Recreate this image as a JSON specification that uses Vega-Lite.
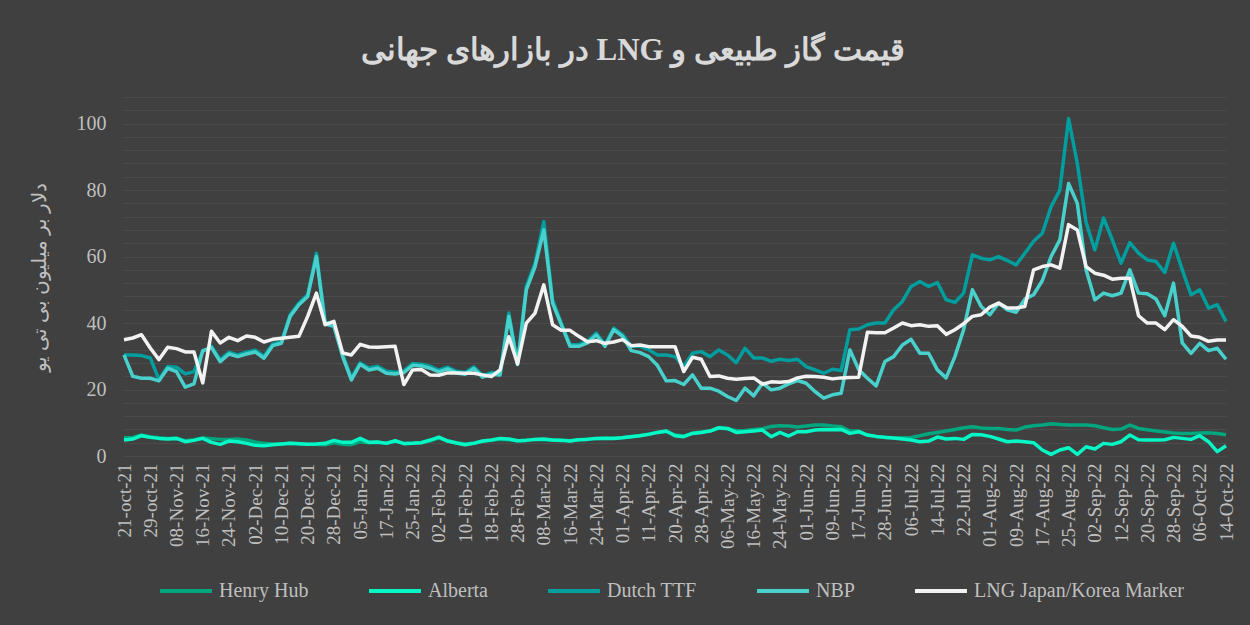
{
"$schema": "https://vega.github.io/schema/vega-lite/v6.json",
"autosize": {"type": "none"},
"width": 1102,
"height": 359,
"padding": {"left": 124, "top": 97, "right": 24, "bottom": 169},
"background": "#404040",
"title": {"text": "‫قیمت گاز طبیعی و LNG در بازارهای جهانی‬", "font": "Liberation Serif", "fontSize": 31, "fontWeight": "bold", "color": "#D9D9D9", "anchor": "middle", "frame": "group", "dx": -42, "offset": 20},
"config": {
  "view": {"stroke": null},
  "font": "Liberation Serif",
  "axisY": {"domain": false, "ticks": false, "gridColor": "#4C4C4C", "gridWidth": 1, "labelOverlap": false, "labelFont": "Liberation Serif", "labelFontSize": 20, "labelColor": "#BFBFBF", "labelPadding": 18, "titleFont": "Liberation Serif", "titleFontSize": 20, "titleFontWeight": "normal", "titleColor": "#BFBFBF", "titlePadding": 27},
  "axisX": {"domain": false, "ticks": false, "grid": false, "labelFont": "Liberation Serif", "labelFontSize": 19, "labelColor": "#BFBFBF", "labelPadding": 7, "labelAngle": -90, "labelOverlap": false, "labelBound": false},
  "legend": {"orient": "none", "legendX": 34, "legendY": 466, "direction": "horizontal", "symbolType": "stroke", "symbolSize": 2700, "symbolStrokeWidth": 4, "labelFont": "Liberation Serif", "labelFontSize": 20, "labelColor": "#BFBFBF", "labelLimit": 400, "labelOffset": 5, "columnPadding": 52, "padding": 0}
},
"data": {"values": [
{"d":"21-oct-21","Henry Hub":5.5,"Alberta":4.8,"Dutch TTF":30.4,"NBP":30.4,"LNG Japan/Korea Marker":35},
{"d":"25-oct-21","Henry Hub":5.6,"Alberta":5.1,"Dutch TTF":30.4,"NBP":24,"LNG Japan/Korea Marker":35.5},
{"d":"27-oct-21","Henry Hub":6.3,"Alberta":6.1,"Dutch TTF":30.2,"NBP":23.4,"LNG Japan/Korea Marker":36.5},
{"d":"29-oct-21","Henry Hub":5.8,"Alberta":5.6,"Dutch TTF":29.5,"NBP":23.4,"LNG Japan/Korea Marker":32.5},
{"d":"02-Nov-21","Henry Hub":5.5,"Alberta":5.3,"Dutch TTF":23,"NBP":22.6,"LNG Japan/Korea Marker":29},
{"d":"04-Nov-21","Henry Hub":5.3,"Alberta":5.1,"Dutch TTF":26.9,"NBP":26.4,"LNG Japan/Korea Marker":32.7},
{"d":"08-Nov-21","Henry Hub":5.4,"Alberta":5.3,"Dutch TTF":26.7,"NBP":25.4,"LNG Japan/Korea Marker":32.3},
{"d":"10-Nov-21","Henry Hub":4.6,"Alberta":4.3,"Dutch TTF":24.7,"NBP":20.7,"LNG Japan/Korea Marker":31.3},
{"d":"12-Nov-21","Henry Hub":4.9,"Alberta":4.7,"Dutch TTF":25.4,"NBP":21.7,"LNG Japan/Korea Marker":31.3},
{"d":"16-Nov-21","Henry Hub":5.4,"Alberta":5.3,"Dutch TTF":31.4,"NBP":31.7,"LNG Japan/Korea Marker":22},
{"d":"18-Nov-21","Henry Hub":5.2,"Alberta":4.1,"Dutch TTF":33,"NBP":32.6,"LNG Japan/Korea Marker":37.5},
{"d":"22-Nov-21","Henry Hub":5.0,"Alberta":3.5,"Dutch TTF":29,"NBP":28.4,"LNG Japan/Korea Marker":34},
{"d":"24-Nov-21","Henry Hub":5.0,"Alberta":4.5,"Dutch TTF":31.2,"NBP":30.7,"LNG Japan/Korea Marker":35.7},
{"d":"26-Nov-21","Henry Hub":5.1,"Alberta":4.3,"Dutch TTF":30.4,"NBP":29.9,"LNG Japan/Korea Marker":34.7},
{"d":"30-Nov-21","Henry Hub":4.8,"Alberta":3.8,"Dutch TTF":31.2,"NBP":30.7,"LNG Japan/Korea Marker":36.1},
{"d":"02-Dec-21","Henry Hub":4.2,"Alberta":3.2,"Dutch TTF":31.8,"NBP":31.3,"LNG Japan/Korea Marker":35.7},
{"d":"06-Dec-21","Henry Hub":3.8,"Alberta":3.1,"Dutch TTF":30,"NBP":29.4,"LNG Japan/Korea Marker":34.3},
{"d":"08-Dec-21","Henry Hub":3.6,"Alberta":3.4,"Dutch TTF":33.7,"NBP":33.2,"LNG Japan/Korea Marker":35.1},
{"d":"10-Dec-21","Henry Hub":3.6,"Alberta":3.6,"Dutch TTF":34.4,"NBP":33.9,"LNG Japan/Korea Marker":35.4},
{"d":"14-Dec-21","Henry Hub":3.8,"Alberta":3.8,"Dutch TTF":42.5,"NBP":42,"LNG Japan/Korea Marker":35.7},
{"d":"16-Dec-21","Henry Hub":3.7,"Alberta":3.7,"Dutch TTF":46,"NBP":45.5,"LNG Japan/Korea Marker":36},
{"d":"20-Dec-21","Henry Hub":3.5,"Alberta":3.5,"Dutch TTF":48.5,"NBP":48,"LNG Japan/Korea Marker":42},
{"d":"22-Dec-21","Henry Hub":3.5,"Alberta":3.6,"Dutch TTF":61,"NBP":60,"LNG Japan/Korea Marker":49},
{"d":"24-Dec-21","Henry Hub":3.4,"Alberta":3.8,"Dutch TTF":40.5,"NBP":39.7,"LNG Japan/Korea Marker":39.5},
{"d":"28-Dec-21","Henry Hub":4.0,"Alberta":4.7,"Dutch TTF":39.5,"NBP":39,"LNG Japan/Korea Marker":40.5},
{"d":"30-Dec-21","Henry Hub":3.5,"Alberta":4.1,"Dutch TTF":30.5,"NBP":29.9,"LNG Japan/Korea Marker":31},
{"d":"03-Jan-22","Henry Hub":3.4,"Alberta":4.1,"Dutch TTF":23.5,"NBP":22.9,"LNG Japan/Korea Marker":30.4},
{"d":"05-Jan-22","Henry Hub":4.3,"Alberta":5.3,"Dutch TTF":28,"NBP":27.6,"LNG Japan/Korea Marker":33.6},
{"d":"10-Jan-22","Henry Hub":4.0,"Alberta":4.1,"Dutch TTF":26.5,"NBP":25.9,"LNG Japan/Korea Marker":32.8},
{"d":"13-Jan-22","Henry Hub":4.1,"Alberta":4.2,"Dutch TTF":27,"NBP":26.4,"LNG Japan/Korea Marker":32.7},
{"d":"17-Jan-22","Henry Hub":3.9,"Alberta":3.8,"Dutch TTF":25.5,"NBP":24.9,"LNG Japan/Korea Marker":32.9},
{"d":"19-Jan-22","Henry Hub":4.4,"Alberta":4.6,"Dutch TTF":25.2,"NBP":24.7,"LNG Japan/Korea Marker":33},
{"d":"21-Jan-22","Henry Hub":3.8,"Alberta":3.7,"Dutch TTF":25.6,"NBP":25.1,"LNG Japan/Korea Marker":21.5},
{"d":"25-Jan-22","Henry Hub":3.9,"Alberta":3.8,"Dutch TTF":27.8,"NBP":27.3,"LNG Japan/Korea Marker":25.9},
{"d":"27-Jan-22","Henry Hub":4.1,"Alberta":4.0,"Dutch TTF":27.6,"NBP":27.1,"LNG Japan/Korea Marker":26},
{"d":"31-Jan-22","Henry Hub":4.6,"Alberta":4.8,"Dutch TTF":27,"NBP":26.4,"LNG Japan/Korea Marker":24.4},
{"d":"02-Feb-22","Henry Hub":5.4,"Alberta":5.7,"Dutch TTF":25.8,"NBP":25.3,"LNG Japan/Korea Marker":24.3},
{"d":"04-Feb-22","Henry Hub":4.6,"Alberta":4.5,"Dutch TTF":26.7,"NBP":26.2,"LNG Japan/Korea Marker":25},
{"d":"08-Feb-22","Henry Hub":4.0,"Alberta":3.9,"Dutch TTF":25.5,"NBP":25,"LNG Japan/Korea Marker":25},
{"d":"10-Feb-22","Henry Hub":3.6,"Alberta":3.4,"Dutch TTF":25.1,"NBP":24.6,"LNG Japan/Korea Marker":24.9},
{"d":"14-Feb-22","Henry Hub":3.9,"Alberta":3.8,"Dutch TTF":26.8,"NBP":26.3,"LNG Japan/Korea Marker":24.9},
{"d":"16-Feb-22","Henry Hub":4.4,"Alberta":4.5,"Dutch TTF":24.2,"NBP":23.7,"LNG Japan/Korea Marker":24.4},
{"d":"18-Feb-22","Henry Hub":4.7,"Alberta":4.8,"Dutch TTF":25.1,"NBP":24.6,"LNG Japan/Korea Marker":23.9},
{"d":"22-Feb-22","Henry Hub":5.0,"Alberta":5.3,"Dutch TTF":24.9,"NBP":24.4,"LNG Japan/Korea Marker":25.9},
{"d":"24-Feb-22","Henry Hub":4.9,"Alberta":5.1,"Dutch TTF":43,"NBP":42,"LNG Japan/Korea Marker":35.9},
{"d":"28-Feb-22","Henry Hub":4.6,"Alberta":4.6,"Dutch TTF":28,"NBP":27.5,"LNG Japan/Korea Marker":27.7},
{"d":"02-Mar-22","Henry Hub":4.8,"Alberta":4.7,"Dutch TTF":51,"NBP":50,"LNG Japan/Korea Marker":40},
{"d":"04-Mar-22","Henry Hub":5.0,"Alberta":5.0,"Dutch TTF":58,"NBP":57,"LNG Japan/Korea Marker":43},
{"d":"08-Mar-22","Henry Hub":4.9,"Alberta":5.1,"Dutch TTF":70.5,"NBP":68,"LNG Japan/Korea Marker":51.5},
{"d":"10-Mar-22","Henry Hub":4.8,"Alberta":4.8,"Dutch TTF":47,"NBP":46,"LNG Japan/Korea Marker":39.5},
{"d":"14-Mar-22","Henry Hub":4.8,"Alberta":4.7,"Dutch TTF":40,"NBP":39.5,"LNG Japan/Korea Marker":37.8},
{"d":"16-Mar-22","Henry Hub":4.6,"Alberta":4.5,"Dutch TTF":33.5,"NBP":33,"LNG Japan/Korea Marker":37.8},
{"d":"18-Mar-22","Henry Hub":4.9,"Alberta":4.9,"Dutch TTF":33.5,"NBP":33,"LNG Japan/Korea Marker":36},
{"d":"22-Mar-22","Henry Hub":5.1,"Alberta":5.0,"Dutch TTF":34.5,"NBP":34,"LNG Japan/Korea Marker":34.4},
{"d":"24-Mar-22","Henry Hub":5.3,"Alberta":5.3,"Dutch TTF":37,"NBP":36.4,"LNG Japan/Korea Marker":34.7},
{"d":"28-Mar-22","Henry Hub":5.4,"Alberta":5.3,"Dutch TTF":33.5,"NBP":33,"LNG Japan/Korea Marker":33.9},
{"d":"30-Mar-22","Henry Hub":5.4,"Alberta":5.3,"Dutch TTF":38.5,"NBP":38,"LNG Japan/Korea Marker":34.3},
{"d":"01-Apr-22","Henry Hub":5.6,"Alberta":5.5,"Dutch TTF":36.5,"NBP":36,"LNG Japan/Korea Marker":35},
{"d":"05-Apr-22","Henry Hub":5.9,"Alberta":5.8,"Dutch TTF":33,"NBP":31.7,"LNG Japan/Korea Marker":33.2},
{"d":"07-Apr-22","Henry Hub":6.2,"Alberta":6.1,"Dutch TTF":33,"NBP":31.1,"LNG Japan/Korea Marker":33.4},
{"d":"11-Apr-22","Henry Hub":6.6,"Alberta":6.5,"Dutch TTF":32,"NBP":29.9,"LNG Japan/Korea Marker":32.9},
{"d":"13-Apr-22","Henry Hub":7.1,"Alberta":7.1,"Dutch TTF":30.4,"NBP":27.2,"LNG Japan/Korea Marker":32.9},
{"d":"18-Apr-22","Henry Hub":7.4,"Alberta":7.5,"Dutch TTF":30.4,"NBP":22.6,"LNG Japan/Korea Marker":32.9},
{"d":"20-Apr-22","Henry Hub":6.3,"Alberta":6.1,"Dutch TTF":29.9,"NBP":22.7,"LNG Japan/Korea Marker":32.9},
{"d":"22-Apr-22","Henry Hub":6.0,"Alberta":5.8,"Dutch TTF":26.9,"NBP":21.5,"LNG Japan/Korea Marker":25.4},
{"d":"26-Apr-22","Henry Hub":6.9,"Alberta":6.8,"Dutch TTF":30.9,"NBP":24.4,"LNG Japan/Korea Marker":29.7},
{"d":"28-Apr-22","Henry Hub":7.2,"Alberta":7.1,"Dutch TTF":31.4,"NBP":20.4,"LNG Japan/Korea Marker":29.1},
{"d":"02-May-22","Henry Hub":7.5,"Alberta":7.5,"Dutch TTF":29.9,"NBP":20.4,"LNG Japan/Korea Marker":23.9},
{"d":"04-May-22","Henry Hub":8.4,"Alberta":8.5,"Dutch TTF":31.9,"NBP":19.5,"LNG Japan/Korea Marker":24.1},
{"d":"06-May-22","Henry Hub":8.2,"Alberta":8.3,"Dutch TTF":30.4,"NBP":17.9,"LNG Japan/Korea Marker":23.4},
{"d":"10-May-22","Henry Hub":7.6,"Alberta":7.1,"Dutch TTF":28.1,"NBP":16.7,"LNG Japan/Korea Marker":23.1},
{"d":"12-May-22","Henry Hub":7.7,"Alberta":7.3,"Dutch TTF":32.4,"NBP":20.4,"LNG Japan/Korea Marker":23.3},
{"d":"16-May-22","Henry Hub":8.0,"Alberta":7.5,"Dutch TTF":29.5,"NBP":18.1,"LNG Japan/Korea Marker":23.5},
{"d":"18-May-22","Henry Hub":8.2,"Alberta":7.8,"Dutch TTF":29.5,"NBP":21.9,"LNG Japan/Korea Marker":21.6},
{"d":"20-May-22","Henry Hub":8.9,"Alberta":5.8,"Dutch TTF":28.5,"NBP":19.9,"LNG Japan/Korea Marker":22.3},
{"d":"24-May-22","Henry Hub":9.1,"Alberta":7.1,"Dutch TTF":29.1,"NBP":20.4,"LNG Japan/Korea Marker":22.2},
{"d":"26-May-22","Henry Hub":9.0,"Alberta":6.0,"Dutch TTF":28.7,"NBP":21.7,"LNG Japan/Korea Marker":22.4},
{"d":"30-May-22","Henry Hub":8.7,"Alberta":7.3,"Dutch TTF":29.1,"NBP":22.7,"LNG Japan/Korea Marker":23.5},
{"d":"01-Jun-22","Henry Hub":9.0,"Alberta":7.3,"Dutch TTF":26.9,"NBP":21.9,"LNG Japan/Korea Marker":24},
{"d":"03-Jun-22","Henry Hub":9.3,"Alberta":7.8,"Dutch TTF":25.9,"NBP":19.4,"LNG Japan/Korea Marker":23.9},
{"d":"07-Jun-22","Henry Hub":9.3,"Alberta":8.0,"Dutch TTF":24.9,"NBP":17.4,"LNG Japan/Korea Marker":23.7},
{"d":"09-Jun-22","Henry Hub":9.0,"Alberta":7.9,"Dutch TTF":26.1,"NBP":18.4,"LNG Japan/Korea Marker":23.2},
{"d":"13-Jun-22","Henry Hub":8.8,"Alberta":8.0,"Dutch TTF":25.7,"NBP":18.9,"LNG Japan/Korea Marker":23.5},
{"d":"15-Jun-22","Henry Hub":7.5,"Alberta":6.8,"Dutch TTF":38,"NBP":31.9,"LNG Japan/Korea Marker":23.6},
{"d":"17-Jun-22","Henry Hub":7.5,"Alberta":7.3,"Dutch TTF":38.2,"NBP":26,"LNG Japan/Korea Marker":23.7},
{"d":"22-Jun-22","Henry Hub":6.3,"Alberta":6.3,"Dutch TTF":39.5,"NBP":23.4,"LNG Japan/Korea Marker":37.2},
{"d":"24-Jun-22","Henry Hub":5.9,"Alberta":5.9,"Dutch TTF":40,"NBP":21.1,"LNG Japan/Korea Marker":37.1},
{"d":"28-Jun-22","Henry Hub":5.7,"Alberta":5.6,"Dutch TTF":40,"NBP":28.4,"LNG Japan/Korea Marker":37.1},
{"d":"30-Jun-22","Henry Hub":5.4,"Alberta":5.4,"Dutch TTF":44,"NBP":29.9,"LNG Japan/Korea Marker":38.5},
{"d":"04-Jul-22","Henry Hub":5.5,"Alberta":5.1,"Dutch TTF":46.5,"NBP":33.4,"LNG Japan/Korea Marker":40},
{"d":"06-Jul-22","Henry Hub":5.6,"Alberta":4.8,"Dutch TTF":51,"NBP":35.1,"LNG Japan/Korea Marker":39.2},
{"d":"08-Jul-22","Henry Hub":6.1,"Alberta":4.3,"Dutch TTF":52.5,"NBP":30.9,"LNG Japan/Korea Marker":39.5},
{"d":"12-Jul-22","Henry Hub":6.7,"Alberta":4.5,"Dutch TTF":51,"NBP":30.9,"LNG Japan/Korea Marker":39},
{"d":"14-Jul-22","Henry Hub":7.1,"Alberta":5.7,"Dutch TTF":52.2,"NBP":25.9,"LNG Japan/Korea Marker":39.2},
{"d":"18-Jul-22","Henry Hub":7.5,"Alberta":5.1,"Dutch TTF":47,"NBP":23.5,"LNG Japan/Korea Marker":36.6},
{"d":"20-Jul-22","Henry Hub":8.0,"Alberta":5.3,"Dutch TTF":46.2,"NBP":29.9,"LNG Japan/Korea Marker":38},
{"d":"22-Jul-22","Henry Hub":8.5,"Alberta":5.0,"Dutch TTF":49,"NBP":38,"LNG Japan/Korea Marker":39.8},
{"d":"26-Jul-22","Henry Hub":8.8,"Alberta":6.5,"Dutch TTF":60.5,"NBP":50,"LNG Japan/Korea Marker":42},
{"d":"28-Jul-22","Henry Hub":8.4,"Alberta":6.4,"Dutch TTF":59.5,"NBP":45,"LNG Japan/Korea Marker":42.5},
{"d":"01-Aug-22","Henry Hub":8.3,"Alberta":5.9,"Dutch TTF":59,"NBP":42.5,"LNG Japan/Korea Marker":44.8},
{"d":"03-Aug-22","Henry Hub":8.3,"Alberta":5.1,"Dutch TTF":60,"NBP":46,"LNG Japan/Korea Marker":46},
{"d":"05-Aug-22","Henry Hub":8.0,"Alberta":4.3,"Dutch TTF":58.8,"NBP":44,"LNG Japan/Korea Marker":44.5},
{"d":"09-Aug-22","Henry Hub":7.8,"Alberta":4.5,"Dutch TTF":57.5,"NBP":43.2,"LNG Japan/Korea Marker":44.5},
{"d":"11-Aug-22","Henry Hub":8.7,"Alberta":4.3,"Dutch TTF":61,"NBP":47.2,"LNG Japan/Korea Marker":45},
{"d":"15-Aug-22","Henry Hub":9.1,"Alberta":4.0,"Dutch TTF":64.6,"NBP":48.5,"LNG Japan/Korea Marker":56},
{"d":"17-Aug-22","Henry Hub":9.3,"Alberta":1.8,"Dutch TTF":67,"NBP":52.8,"LNG Japan/Korea Marker":57},
{"d":"19-Aug-22","Henry Hub":9.7,"Alberta":0.5,"Dutch TTF":75,"NBP":60,"LNG Japan/Korea Marker":57.5},
{"d":"23-Aug-22","Henry Hub":9.5,"Alberta":1.8,"Dutch TTF":80,"NBP":65,"LNG Japan/Korea Marker":56.5},
{"d":"25-Aug-22","Henry Hub":9.3,"Alberta":2.5,"Dutch TTF":101.5,"NBP":82,"LNG Japan/Korea Marker":69.6},
{"d":"29-Aug-22","Henry Hub":9.3,"Alberta":0.5,"Dutch TTF":88,"NBP":76,"LNG Japan/Korea Marker":68},
{"d":"31-Aug-22","Henry Hub":9.3,"Alberta":2.8,"Dutch TTF":70.3,"NBP":56,"LNG Japan/Korea Marker":57},
{"d":"02-Sep-22","Henry Hub":9.1,"Alberta":2.1,"Dutch TTF":62,"NBP":47,"LNG Japan/Korea Marker":55},
{"d":"07-Sep-22","Henry Hub":8.5,"Alberta":3.8,"Dutch TTF":71.6,"NBP":49,"LNG Japan/Korea Marker":54.4},
{"d":"09-Sep-22","Henry Hub":8.0,"Alberta":3.5,"Dutch TTF":65,"NBP":48.2,"LNG Japan/Korea Marker":53.2},
{"d":"12-Sep-22","Henry Hub":8.1,"Alberta":4.3,"Dutch TTF":58,"NBP":49,"LNG Japan/Korea Marker":53.5},
{"d":"14-Sep-22","Henry Hub":9.3,"Alberta":6.3,"Dutch TTF":64.2,"NBP":56,"LNG Japan/Korea Marker":53.5},
{"d":"16-Sep-22","Henry Hub":8.3,"Alberta":4.9,"Dutch TTF":61,"NBP":49,"LNG Japan/Korea Marker":42.2},
{"d":"20-Sep-22","Henry Hub":7.9,"Alberta":4.8,"Dutch TTF":59,"NBP":48.8,"LNG Japan/Korea Marker":40},
{"d":"22-Sep-22","Henry Hub":7.5,"Alberta":4.8,"Dutch TTF":58.5,"NBP":47.2,"LNG Japan/Korea Marker":40},
{"d":"26-Sep-22","Henry Hub":7.2,"Alberta":4.9,"Dutch TTF":55.2,"NBP":42.2,"LNG Japan/Korea Marker":38},
{"d":"28-Sep-22","Henry Hub":6.9,"Alberta":5.6,"Dutch TTF":64,"NBP":52,"LNG Japan/Korea Marker":41},
{"d":"30-Sep-22","Henry Hub":6.8,"Alberta":5.3,"Dutch TTF":56,"NBP":34,"LNG Japan/Korea Marker":39},
{"d":"04-Oct-22","Henry Hub":6.8,"Alberta":5.0,"Dutch TTF":48.5,"NBP":30.9,"LNG Japan/Korea Marker":36.1},
{"d":"06-Oct-22","Henry Hub":6.9,"Alberta":6.1,"Dutch TTF":50,"NBP":33.9,"LNG Japan/Korea Marker":35.7},
{"d":"10-Oct-22","Henry Hub":7.0,"Alberta":4.3,"Dutch TTF":44.5,"NBP":31.7,"LNG Japan/Korea Marker":34.5},
{"d":"12-Oct-22","Henry Hub":6.8,"Alberta":1.3,"Dutch TTF":45.5,"NBP":32.4,"LNG Japan/Korea Marker":34.9},
{"d":"14-Oct-22","Henry Hub":6.4,"Alberta":3.1,"Dutch TTF":40.5,"NBP":29.1,"LNG Japan/Korea Marker":34.9}
]},
"encoding": {
  "x": {"field": "d", "type": "nominal", "sort": null, "title": null, "scale": {"type": "point", "padding": 0},
        "axis": {"values": ["21-oct-21","29-oct-21","08-Nov-21","16-Nov-21","24-Nov-21","02-Dec-21","10-Dec-21","20-Dec-21","28-Dec-21","05-Jan-22","17-Jan-22","25-Jan-22","02-Feb-22","10-Feb-22","18-Feb-22","28-Feb-22","08-Mar-22","16-Mar-22","24-Mar-22","01-Apr-22","11-Apr-22","20-Apr-22","28-Apr-22","06-May-22","16-May-22","24-May-22","01-Jun-22","09-Jun-22","17-Jun-22","28-Jun-22","06-Jul-22","14-Jul-22","22-Jul-22","01-Aug-22","09-Aug-22","17-Aug-22","25-Aug-22","02-Sep-22","12-Sep-22","20-Sep-22","28-Sep-22","06-Oct-22","14-Oct-22"]}}
},
"layer": [
  {"mark": {"type": "line", "strokeWidth": 3.5, "strokeJoin": "round"},
   "encoding": {
     "y": {"field": "Henry Hub", "type": "quantitative", "title": "دلار بر میلیون بی تی یو", "scale": {"domain": [0, 108], "nice": false, "zero": true},
           "axis": {"values": [0,4,8,12,16,20,24,28,32,36,40,44,48,52,56,60,64,68,72,76,80,84,88,92,96,100,104,108], "labelExpr": "datum.value % 20 === 0 ? datum.label : ''"}},
     "color": {"datum": "Henry Hub", "type": "nominal",
               "scale": {"domain": ["Henry Hub", "Alberta", "Dutch TTF", "NBP", "LNG Japan/Korea Marker"], "range": ["#00A67E", "#05F7C6", "#009E9E", "#48D1CC", "#F2F2F2"]},
               "legend": {"title": null}}}},
  {"mark": {"type": "line", "strokeWidth": 3.5, "strokeJoin": "round"},
   "encoding": {"y": {"field": "Alberta", "type": "quantitative", "title": "دلار بر میلیون بی تی یو", "scale": {"domain": [0, 108], "nice": false, "zero": true},
           "axis": {"values": [0,4,8,12,16,20,24,28,32,36,40,44,48,52,56,60,64,68,72,76,80,84,88,92,96,100,104,108], "labelExpr": "datum.value % 20 === 0 ? datum.label : ''"}}, "color": {"datum": "Alberta", "type": "nominal"}}},
  {"mark": {"type": "line", "strokeWidth": 3.5, "strokeJoin": "round"},
   "encoding": {"y": {"field": "Dutch TTF", "type": "quantitative", "title": "دلار بر میلیون بی تی یو", "scale": {"domain": [0, 108], "nice": false, "zero": true},
           "axis": {"values": [0,4,8,12,16,20,24,28,32,36,40,44,48,52,56,60,64,68,72,76,80,84,88,92,96,100,104,108], "labelExpr": "datum.value % 20 === 0 ? datum.label : ''"}}, "color": {"datum": "Dutch TTF", "type": "nominal"}}},
  {"mark": {"type": "line", "strokeWidth": 3.5, "strokeJoin": "round"},
   "encoding": {"y": {"field": "NBP", "type": "quantitative", "title": "دلار بر میلیون بی تی یو", "scale": {"domain": [0, 108], "nice": false, "zero": true},
           "axis": {"values": [0,4,8,12,16,20,24,28,32,36,40,44,48,52,56,60,64,68,72,76,80,84,88,92,96,100,104,108], "labelExpr": "datum.value % 20 === 0 ? datum.label : ''"}}, "color": {"datum": "NBP", "type": "nominal"}}},
  {"mark": {"type": "line", "strokeWidth": 3.5, "strokeJoin": "round"},
   "encoding": {"y": {"field": "LNG Japan/Korea Marker", "type": "quantitative", "title": "دلار بر میلیون بی تی یو", "scale": {"domain": [0, 108], "nice": false, "zero": true},
           "axis": {"values": [0,4,8,12,16,20,24,28,32,36,40,44,48,52,56,60,64,68,72,76,80,84,88,92,96,100,104,108], "labelExpr": "datum.value % 20 === 0 ? datum.label : ''"}}, "color": {"datum": "LNG Japan/Korea Marker", "type": "nominal"}}}
]
}
